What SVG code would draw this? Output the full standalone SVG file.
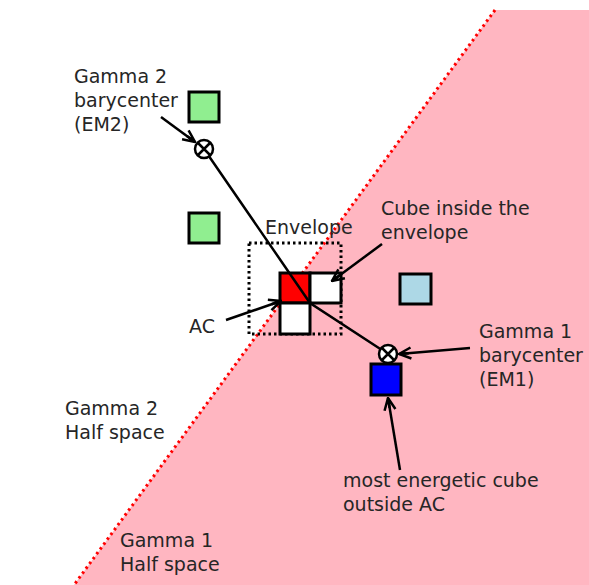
<svg xmlns="http://www.w3.org/2000/svg" width="589" height="585" viewBox="0 0 589 585">
<style>
text{font-family:"DejaVu Sans",sans-serif;font-size:19px;fill:#262626}
.cube{stroke:#000;stroke-width:3}
.conn{fill:none;stroke:#000;stroke-width:2.5}
.bary{fill:#fff;stroke:#000;stroke-width:2.5}
</style>
<defs>
<marker id="arr" viewBox="0 0 14 14" refX="13" refY="7" markerWidth="14" markerHeight="14" markerUnits="userSpaceOnUse" orient="auto">
<path d="M1,1.5 L13,7 L1,12.5 M13,7 L3,7" fill="none" stroke="#000" stroke-width="2.5"/>
</marker>
</defs>
<rect width="589" height="585" fill="#fff"/>
<g id="gamma1-halfspace">
<polygon points="495,10 589,10 589,585 74,585" fill="#ffb6c1"/>
<line x1="495" y1="10" x2="74" y2="585" stroke="#ff0000" stroke-width="3" stroke-dasharray="2.5,3.5"/>
</g>
<g id="green1"><rect class="cube" x="189" y="92" width="30" height="30" fill="#90ee90"/></g>
<g id="green2"><rect class="cube" x="189" y="213" width="30" height="30" fill="#90ee90"/></g>
<g id="lightblue"><rect class="cube" x="400" y="274" width="31" height="30" fill="#add8e6"/></g>
<g id="envelope">
<rect x="249" y="243" width="92" height="91" fill="none" stroke="#000" stroke-width="3" stroke-dasharray="2.5,3"/>
</g>
<g id="ac"><rect class="cube" x="280" y="273" width="30" height="30" fill="#ff0000"/></g>
<g id="cube-right"><rect class="cube" x="310" y="273" width="31" height="30" fill="#fff"/></g>
<g id="cube-below"><rect class="cube" x="280" y="303" width="30" height="31" fill="#fff"/></g>
<g id="blue"><rect class="cube" x="371" y="364" width="30" height="31" fill="#0000ff"/></g>
<g id="connectors">
<polyline class="conn" points="204,149 310,303 388,354"/>
<line class="conn" x1="161" y1="117" x2="195" y2="142" marker-end="url(#arr)"/>
<line class="conn" x1="382" y1="244" x2="332" y2="281" marker-end="url(#arr)"/>
<line class="conn" x1="226" y1="320" x2="281" y2="301" marker-end="url(#arr)"/>
<line class="conn" x1="470" y1="348" x2="399" y2="354" marker-end="url(#arr)"/>
<line class="conn" x1="400" y1="470" x2="388" y2="398" marker-end="url(#arr)"/>
</g>
<g id="em2">
<circle class="bary" cx="204" cy="149" r="9"/>
<path d="M198,143 L210,155 M210,143 L198,155" stroke="#000" stroke-width="2.5"/>
</g>
<g id="em1">
<circle class="bary" cx="388" cy="354" r="9"/>
<path d="M382,348 L394,360 M394,348 L382,360" stroke="#000" stroke-width="2.5"/>
</g>
<g id="labels">
<text x="74" y="83">Gamma 2</text>
<text x="74" y="107">barycenter</text>
<text x="74" y="131">(EM2)</text>
<text x="381" y="215">Cube inside the</text>
<text x="381" y="239">envelope</text>
<text x="265" y="234">Envelope</text>
<text x="189" y="333">AC</text>
<text x="479" y="338">Gamma 1</text>
<text x="479" y="362">barycenter</text>
<text x="479" y="386">(EM1)</text>
<text x="65" y="415">Gamma 2</text>
<text x="65" y="439">Half space</text>
<text x="343" y="487">most energetic cube</text>
<text x="343" y="511">outside AC</text>
<text x="120" y="547">Gamma 1</text>
<text x="120" y="571">Half space</text>
</g>
</svg>
